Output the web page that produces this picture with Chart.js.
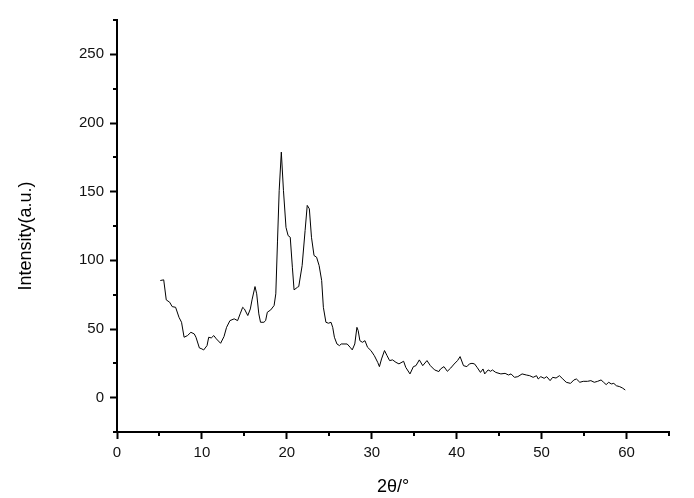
<!DOCTYPE html>
<html>
<head>
<meta charset="utf-8">
<script src="https://cdn.jsdelivr.net/npm/chart.js@4"></script>
<style>
  body { margin: 0; background: #fff; }
  canvas { display: block; }
</style>
</head>
<body>
<canvas id="c" width="694" height="498"></canvas>
<script>
// 2theta positions (deg) and intensities
const twoTheta = [
  5.1, 5.5, 5.8, 6.2, 6.5, 6.9, 7.3, 7.6, 7.9, 8.3, 8.7, 9.1, 9.3, 9.7, 10.0, 10.2, 10.6, 10.8,
  11.1, 11.4, 11.7, 12.2, 12.6, 12.9, 13.3, 13.8, 14.2, 14.5, 14.8, 15.0, 15.4, 15.7, 15.9, 16.25,
  16.45, 16.7, 16.9, 17.3, 17.5, 17.7, 18.1, 18.5, 18.7, 18.9, 19.1, 19.35, 19.6, 19.9, 20.15, 20.4,
  20.65, 20.85, 21.25, 21.4, 21.8, 22.15, 22.4, 22.65, 22.9, 23.2, 23.5, 23.8, 24.1, 24.3, 24.6,
  24.9, 25.2, 25.4, 25.6, 25.9, 26.2, 26.4, 27.1, 27.45, 27.7, 28.0, 28.25, 28.4, 28.6, 28.9, 29.2,
  29.5, 29.9, 30.3, 30.7, 30.9, 31.15, 31.5, 31.8, 32.1, 32.45, 32.85, 33.2, 33.75, 34.0, 34.5,
  34.9, 35.2, 35.6, 36.0, 36.5, 36.9, 37.4, 37.9, 38.1, 38.5, 38.9, 39.3, 39.7, 40.1, 40.4, 40.8,
  41.2, 41.5, 41.8, 42.1, 42.4, 42.8, 43.1, 43.3, 43.7, 44.0, 44.2, 44.6, 45.2, 45.7, 46.1, 46.4,
  46.8, 47.2, 47.7, 48.2, 48.6, 49.0, 49.4, 49.6, 49.9, 50.3, 50.6, 51.0, 51.3, 51.7, 52.1, 52.5,
  52.9, 53.4, 53.8, 54.1, 54.5, 54.9, 55.4, 55.8, 56.2, 56.6, 57.0, 57.3, 57.6, 57.9, 58.2, 58.5,
  58.8, 59.2, 59.5, 59.85
];
const intensity = [
  85.3, 85.8, 71.2, 69.5, 66.3, 65.8, 58.5, 54.9, 44.0, 45.2, 47.6, 46.4, 44.0, 36.2, 35.5, 34.7, 37.9, 44.0,
  43.5, 45.2, 42.8, 39.6, 44.5, 51.2, 56.1, 57.4, 56.1, 61.0, 65.8, 64.6, 59.8, 64.6, 71.2, 80.9,
  75.6, 61.0, 54.9, 54.9, 56.1, 62.2, 63.9, 67.1, 75.6, 114, 151, 178.8, 151, 124, 118, 116.8,
  95.0, 78.5, 80.4, 80.9, 96.2, 121.7, 140, 137.5, 116.8, 103.5, 102.3, 96.2, 85.3, 65.8, 54.9,
  54.2, 54.9, 51.2, 44.0, 39.1, 37.9, 39.1, 39.1, 36.7, 34.8, 39.1, 51.2, 48.8, 41.5, 40.3, 41.5,
  36.7, 34.3, 30.6, 25.7, 22.6, 28.2, 34.3, 30.6, 27.0, 27.5, 25.7, 24.6, 26.5, 22.1, 17.3,
  22.6, 23.3, 27.5, 23.3, 27.0, 23.3, 20.2, 19.0, 20.9, 22.6, 19.2, 21.6, 24.5, 27.0, 29.9, 23.3,
  22.6, 24.6, 25.0, 24.6, 22.1, 18.4, 20.9, 17.3, 20.2, 19.2, 20.2, 18.4, 17.3, 17.7, 16.5, 17.3,
  14.8, 15.3, 17.3, 16.5, 16.0, 14.8, 16.0, 13.6, 15.3, 14.1, 15.3, 12.4, 14.8, 14.3, 16.0, 13.6,
  11.2, 10.4, 12.9, 13.6, 11.2, 11.9, 11.9, 12.4, 11.2, 11.9, 12.9, 11.2, 9.5, 11.2, 10.0, 10.4,
  8.7, 8.0, 7.1, 5.6
];

const xMin = 0, xMax = 65, xMajor = 10;
const yMin = -25, yMax = 275, yMajor = 50;
const xTitle = "2θ/°";
const yTitle = "Intensity(a.u.)";

const points = twoTheta.map((x, i) => ({ x: x, y: intensity[i] }));

const fontFamily = "Arial, 'Liberation Sans', sans-serif";
const tickFont = { family: fontFamily, size: 15 };
const titleFont = { family: fontFamily, size: 18 };

// minor ticks halfway between the major ones + the y title (sits a bit below centre)
const extras = {
  id: "extras",
  afterDraw(chart) {
    const ctx = chart.ctx;
    const xs = chart.scales.x;
    const ys = chart.scales.y;
    ctx.save();
    ctx.strokeStyle = "#000";
    ctx.lineWidth = 2;
    ctx.beginPath();
    for (let v = xMin + xMajor / 2; v <= xMax; v += xMajor) {
      const px = Math.round(xs.getPixelForValue(v));
      ctx.moveTo(px, ys.bottom);
      ctx.lineTo(px, ys.bottom + 4);
    }
    for (let v = yMin; v <= yMax; v += yMajor) {
      const py = Math.round(ys.getPixelForValue(v));
      ctx.moveTo(xs.left, py);
      ctx.lineTo(xs.left - 4, py);
    }
    ctx.stroke();

    ctx.translate(26, (ys.top + ys.bottom) / 2 + 10);
    ctx.rotate(-Math.PI / 2);
    ctx.fillStyle = "#000";
    ctx.font = titleFont.size + "px " + fontFamily;
    ctx.textAlign = "center";
    ctx.textBaseline = "middle";
    ctx.fillText(yTitle, 0, 0);
    ctx.restore();
  }
};

new Chart(document.getElementById("c").getContext("2d"), {
  type: "line",
  data: {
    datasets: [{
      data: points,
      borderColor: "#000",
      borderWidth: 1,
      pointRadius: 0,
      tension: 0,
      fill: false
    }]
  },
  options: {
    responsive: false,
    animation: false,
    layout: { padding: { top: 20, right: 25, left: 0, bottom: 0 } },
    plugins: { legend: { display: false }, tooltip: { enabled: false } },
    scales: {
      x: {
        type: "linear",
        min: xMin,
        max: xMax,
        afterBuildTicks(scale) {
          scale.ticks = scale.ticks.filter(t => t.value % xMajor === 0);
        },
        afterFit(scale) { scale.height = 66; },
        ticks: { stepSize: xMajor, color: "#111", font: tickFont, padding: 5, maxRotation: 0 },
        grid: { drawOnChartArea: false, tickLength: 7, tickWidth: 2, tickColor: "#000" },
        border: { color: "#000", width: 2 },
        title: { display: true, text: xTitle, color: "#000", font: titleFont, padding: { top: 6, bottom: 0 } }
      },
      y: {
        min: yMin,
        max: yMax,
        afterBuildTicks(scale) {
          scale.ticks = scale.ticks.filter(t => t.value % yMajor === 0);
        },
        afterFit(scale) { scale.width = 117; },
        ticks: { stepSize: 25, color: "#111", font: tickFont, padding: 6 },
        grid: { drawOnChartArea: false, tickLength: 7, tickWidth: 2, tickColor: "#000" },
        border: { color: "#000", width: 2 }
      }
    }
  },
  plugins: [extras]
});
</script>
</body>
</html>
